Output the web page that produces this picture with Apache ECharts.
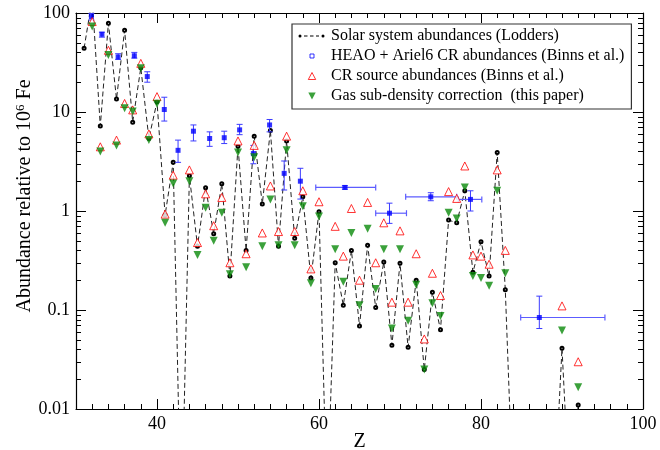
<!DOCTYPE html>
<html><head><meta charset="utf-8">
<script src="https://cdn.jsdelivr.net/npm/echarts@6/dist/echarts.min.js"></script>
<style>html,body{margin:0;padding:0;background:#fff}#c{width:660px;height:450px}</style>
</head><body><div id="c"></div>
<script>
// ---- data ----
const solarZ = [31,32,33,34,35,36,37,38,39,40,41,42,43,44,45,46,47,48,49,50,51,52,53,54,55,56,57,58,59,60,61,62,63,64,65,66,67,68,69,70,71,72,73,74,75,76,77,78,79,80,81,82,83,84,85,86,87,88,89,90,91,92];
const solarVal = [44,140,7.2,79,13.5,67,7.9,28,5.4,12.7,0.91,3.1,0.0005,2.27,0.44,1.72,0.59,1.88,0.22,4.5,0.40,5.7,1.18,6.5,0.44,5.1,0.53,1.39,0.21,0.98,0.001,0.30,0.112,0.40,0.069,0.45,0.106,0.305,0.044,0.296,0.042,0.20,0.025,0.151,0.063,0.81,0.76,1.6,0.24,0.49,0.22,3.9,0.16,0.001,0.001,0.001,0.001,0.001,0.001,0.041,0.001,0.011];

const crZ = [32,33,34,35,36,37,38,39,40,41,42,44,45,46,47,48,49,50,51,52,53,54,55,56,57,58,59,60,62,63,64,65,66,67,68,69,70,71,72,73,74,75,76,77,78,79,80,81,82,83,90,92];
const crSourceVal = [82,4.45,42,5.2,12.2,10.5,31,6.0,14.3,0.93,2.3,2.6,0.48,1.49,0.71,1.37,0.30,5.1,0.37,4.6,0.60,1.79,0.62,5.7,0.62,1.6,0.26,1.24,0.70,0.35,1.06,0.20,1.22,0.30,0.76,0.12,0.63,0.12,0.37,0.051,0.235,0.14,1.57,1.34,2.85,0.36,0.35,0.29,2.6,0.40,0.11,0.030];
const gasCorrVal = [73,4.0,37.6,4.6,10.9,10.1,27.6,5.2,12.1,0.76,1.9,2.0,0.36,1.08,0.50,0.96,0.23,3.9,0.27,3.5,0.44,1.31,0.45,4.1,0.45,1.12,0.186,0.88,0.41,0.193,0.60,0.112,0.66,0.163,0.41,0.065,0.41,0.078,0.18,0.025,0.117,0.087,0.96,0.84,1.73,0.22,0.21,0.176,1.6,0.235,0.062,0.0166];

const heaoZ    = [31.9,33.2,35.2,37.2,38.8,40.9,42.6,44.5,46.5,48.3,50.2,51.9,53.9,55.7,57.7,63.2,68.7,73.8,78.7,87.2];
const heaoVal  = [92,61,36,37,22.8,10.6,4.1,6.4,5.4,5.5,6.6,3.8,7.4,2.4,2.0,1.73,0.95,1.39,1.31,0.084];
const heaoLow  = [85,57,34,35,20,8.1,3.1,5.1,4.5,4.8,5.9,3.0,6.3,1.63,1.32,1.66,0.75,1.27,1.0,0.065];
const heaoHigh = [99,64,38.8,40,25.5,14.1,5.2,7.4,6.3,6.4,7.5,4.6,8.4,3.2,2.7,1.8,1.2,1.53,1.6,0.138];
const heaoZLow  = [null,null,null,null,null,null,null,null,null,null,null,null,null,null,null,59.6,67.0,70.7,77.2,84.9];
const heaoZHigh = [null,null,null,null,null,null,null,null,null,null,null,null,null,null,null,67.0,70.8,77.0,80.1,95.3];

const xTickLabels = [40,60,80,100];
const yTickValues = [0.01,0.1,1,10,100];
const yTickLabels = ['0.01','0.1','1','10','100'];
const yMinorTicks = [0.02,0.03,0.04,0.05,0.06,0.07,0.08,0.09,0.2,0.3,0.4,0.5,0.6,0.7,0.8,0.9,2,3,4,5,6,7,8,9,20,30,40,50,60,70,80,90];

const seriesNames = ['Solar system abundances (Lodders)','HEAO + Ariel6 CR abundances (Binns et al.)','CR source abundances (Binns et al.)','Gas sub-density correction  (this paper)'];

// ---- chart ----
const FONT = 'Liberation Serif';
const chart = echarts.init(document.getElementById('c'), null, {renderer:'canvas'});
const solarData = solarZ.map((z,i)=>[z, solarVal[i]]);
const crData = crZ.map((z,i)=>[z, crSourceVal[i]]);
const gasData = crZ.map((z,i)=>[z, gasCorrVal[i]]);
const heaoData = heaoZ.map((z,i)=>[z, heaoVal[i]]);
const errData = heaoZ.map((z,i)=>[z, heaoVal[i], heaoLow[i], heaoHigh[i], heaoZLow[i]==null?NaN:heaoZLow[i], heaoZHigh[i]==null?NaN:heaoZHigh[i]]);

function yLabel(v){
  const e = Math.log10(v);
  let best = 0, d = 1e9;
  yTickValues.forEach((t,i)=>{ const dd = Math.abs(Math.log10(t)-e); if(dd<d){d=dd;best=i;} });
  return yTickLabels[best];
}

const axisLineStyle = {show:true, lineStyle:{color:'#000', width:1.2}};
const tickStyle = {color:'#000', width:1};

function xAx(pos, major, withLabel){
  const a = {type:'value', position:pos, min:30, max:100, interval: major?10:2,
    axisLine: major ? axisLineStyle : {show:false},
    axisTick: major ? {show:true, inside:true, length:10, lineStyle:tickStyle, customValues:xTickLabels}
                    : {show:true, inside:true, length:5, lineStyle:tickStyle},
    axisLabel: withLabel ? {show:true, customValues:xTickLabels, margin:6, color:'#000', fontFamily:FONT, fontSize:18, formatter:v=>String(v)} : {show:false},
    splitLine:{show:false}};
  if (withLabel) { a.name='Z'; a.nameLocation='middle'; a.nameGap=23; a.nameMoveOverlap=false; a.nameTextStyle={fontFamily:FONT, fontSize:20, color:'#000'}; }
  return a;
}
function yAx(pos, withLabel){
  const a = {type:'log', logBase:10, position:pos, min:0.01, max:100,
    axisLine: axisLineStyle,
    axisTick: {show:true, inside:true, length:10, lineStyle:tickStyle},
    axisLabel: withLabel ? {show:true, margin:6, color:'#000', fontFamily:FONT, fontSize:18, formatter:yLabel} : {show:false},
    splitLine:{show:false}, minorTick:{show:false}};
  if (withLabel) {
    a.name = 'Abundance relative to 10{sup|6} Fe';
    a.nameLocation='middle'; a.nameGap=40; a.nameRotate=90; a.nameMoveOverlap=false;
    a.nameTextStyle={fontFamily:FONT, fontSize:20, color:'#000', padding:[0,0,0,30],
      rich:{sup:{fontFamily:FONT, fontSize:13, color:'#000', verticalAlign:'top', padding:[0,0,9,0]}}};
  }
  return a;
}

function renderErr(params, api){
  const x = api.value(0), lo = api.value(2), hi = api.value(3), xl = api.value(4), xh = api.value(5), y = api.value(1);
  const c = api.coord([x, y]);
  const pLo = api.coord([x, lo]), pHi = api.coord([x, hi]);
  const st = {stroke:'#3b3bff', lineWidth:1};
  const cap = 3;
  const ch = [
    {type:'line', shape:{x1:c[0], y1:pLo[1], x2:c[0], y2:pHi[1]}, style:st},
    {type:'line', shape:{x1:c[0]-cap, y1:pLo[1], x2:c[0]+cap, y2:pLo[1]}, style:st},
    {type:'line', shape:{x1:c[0]-cap, y1:pHi[1], x2:c[0]+cap, y2:pHi[1]}, style:st}
  ];
  if (!isNaN(xl) && !isNaN(xh)) {
    const pl = api.coord([xl, y]), ph = api.coord([xh, y]);
    const st2 = {stroke:'#5c5cff', lineWidth:1.2};
    ch.push({type:'line', shape:{x1:pl[0], y1:c[1], x2:ph[0], y2:c[1]}, style:st2});
    ch.push({type:'line', shape:{x1:pl[0], y1:c[1]-cap, x2:pl[0], y2:c[1]+cap}, style:st2});
    ch.push({type:'line', shape:{x1:ph[0], y1:c[1]-cap, x2:ph[0], y2:c[1]+cap}, style:st2});
  }
  return {type:'group', children:ch};
}

// minor ticks of the log axis (2..9 within each decade), placed through the axis scale
function renderMinorY(params, api){
  const cs = params.coordSys;
  const p = api.coord([30, api.value(1)]);
  const y = Math.round(p[1]) + 0.5;
  const st = {stroke:'#000', lineWidth:1};
  return {type:'group', children:[
    {type:'line', shape:{x1:cs.x, y1:y, x2:cs.x+5, y2:y}, style:st},
    {type:'line', shape:{x1:cs.x+cs.width-5, y1:y, x2:cs.x+cs.width, y2:y}, style:st}
  ]};
}

const option = {
  animation:false,
  backgroundColor:'#fff',
  grid:{left:76, right:17, top:13, bottom:41, containLabel:false, outerBoundsMode:'none'},
  xAxis:[xAx('bottom',true,true), xAx('bottom',false,false), xAx('top',true,false), xAx('top',false,false)],
  yAxis:[yAx('left',true), yAx('right',false)],
  legend:{
    orient:'vertical', left:292, top:24, itemWidth:28, itemHeight:8, itemGap:4,
    padding:[4,7,5,6], borderColor:'#333', borderWidth:1.2, backgroundColor:'#fff',
    selectedMode:false,
    textStyle:{fontFamily:FONT, fontSize:16, color:'#000'},
    data:[
      {name:seriesNames[0], icon:'path://M0,0M28,8M0.5,4a1.5,1.5 0 1,0 3,0a1.5,1.5 0 1,0 -3,0ZM6,3.5h3.5v1h-3.5zM12,3.5h3.5v1h-3.5zM18,3.5h3v1h-3zM23.5,4a1.5,1.5 0 1,0 3,0a1.5,1.5 0 1,0 -3,0Z', itemStyle:{color:'#000', borderWidth:0}},
      {name:seriesNames[1], icon:'path://M0,0M8,8M2,2h4v4h-4z', itemStyle:{color:'#fff', borderColor:'#0000ff', borderWidth:1}},
      {name:seriesNames[2], icon:'path://M0,0M8,8M4,0.5L7.7,7.5H0.3Z', itemStyle:{color:'#fff', borderColor:'#ff0000', borderWidth:1}},
      {name:seriesNames[3], icon:'path://M0,0M8,8M0.3,0.5H7.7L4,7.5Z', itemStyle:{color:'#0a8a0a', borderWidth:0}}
    ]
  },
  series:[
    {name:'y-minor-ticks', type:'custom', data:yMinorTicks.map(v=>[30, v]), xAxisIndex:0, yAxisIndex:0, encode:{x:0, y:1}, renderItem:renderMinorY, silent:true, z:1},
    {name:seriesNames[0], type:'line', data:solarData, xAxisIndex:0, yAxisIndex:0, clip:true,
     symbol:'emptyCircle', symbolSize:3, showSymbol:true,
     lineStyle:{color:'#222', width:1, type:[5,3]}, itemStyle:{color:'#000', borderWidth:1}, z:2},
    {name:'heao-errors', type:'custom', data:errData, xAxisIndex:0, yAxisIndex:0, renderItem:renderErr, encode:{x:0, y:1}, z:3, silent:true},
    {name:seriesNames[1], type:'scatter', data:heaoData, symbol:'rect', symbolSize:5, itemStyle:{color:'#0000ff'}, z:4},
    {name:seriesNames[2], type:'scatter', data:crData, symbol:'triangle', symbolSize:8, itemStyle:{color:'#fff', borderColor:'#ff0000', borderWidth:1}, z:5},
    {name:seriesNames[3], type:'scatter', data:gasData, symbol:'triangle', symbolRotate:180, symbolSize:8, itemStyle:{color:'#0a8a0a'}, z:6}
  ]
};
chart.setOption(option);
</script>
</body></html>
